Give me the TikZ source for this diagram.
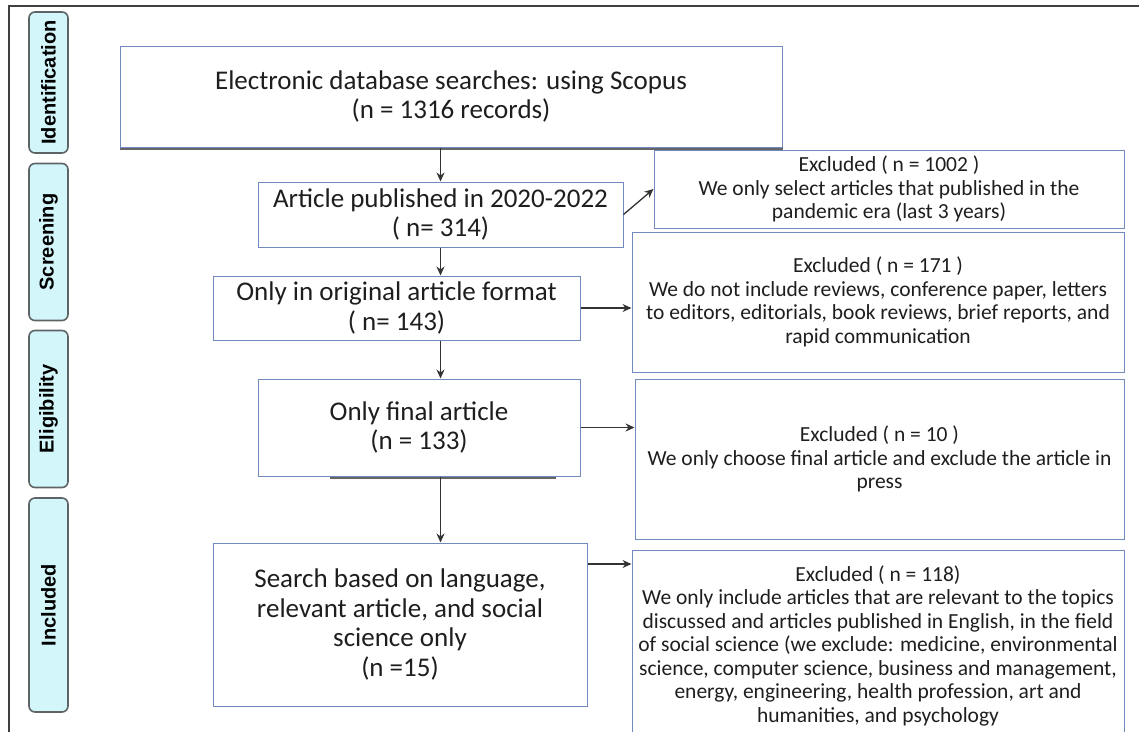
\documentclass[tikz,border=0pt]{standalone}
\usepackage{fontspec}
\setmainfont{Carlito}
\newfontfamily\phasefont{Liberation Sans}
\usetikzlibrary{arrows.meta}
\definecolor{boxline}{HTML}{7189BE}
\definecolor{phasefill}{HTML}{D3F6FB}
\definecolor{phaseline}{HTML}{5E6466}
\definecolor{inktext}{HTML}{1E1E1E}

\begin{document}
\begin{tikzpicture}[
        x=1pt, y=-1pt,
        flow/.style={draw=black!80, line width=1.3pt, -{Stealth[length=9pt, width=8pt]}},
        stagebox/.style={draw=boxline, line width=1pt, align=center, text=inktext, inner sep=0pt, font=\fontsize{27}{29.5}\selectfont},
        exclbox/.style={draw=boxline, line width=1pt, align=center, text=inktext, inner sep=0pt, font=\fontsize{21.5}{23.5}\selectfont},
        phase/.style={draw=phaseline, fill=phasefill, line width=1.6pt, rounded corners=6pt, rotate=90, minimum height=39pt, inner sep=0pt, font=\phasefont\bfseries\fontsize{20}{22}\selectfont},
        shade/.style={draw=black!60, line width=1.6pt}
    ]
    \useasboundingbox (0,0) rectangle (1139,731);
    \draw[line width=2pt, black!75] (9,740) -- (9,6) -- (1139,6);

    % phases on the left
    \node[phase, minimum width=141pt] (identification) at (48.5,82.5) {Identification};
    \node[phase, minimum width=157pt] (screening) at (48.5,242) {Screening};
    \node[phase, minimum width=157pt] (eligibility) at (48.5,409) {Eligibility};
    \node[phase, minimum width=214pt] (inclusion) at (48.5,605) {Included};

    % main flow
    \node[stagebox, minimum width=662pt, minimum height=101pt] (search) at (451,96.5) {Electronic database searches: using Scopus\\(n = 1316 records)};
    \node[stagebox, minimum width=365pt, minimum height=65pt] (years) at (440.5,214.5) {Article published in 2020-2022\\( n= 314)};
    \node[stagebox, minimum width=367pt, minimum height=64pt] (format) at (396.5,308) {Only in original article format\\( n= 143)};
    \node[stagebox, minimum width=322pt, minimum height=97pt] (final) at (419,427.5) {Only final article\\(n = 133)};
    \node[stagebox, minimum width=374pt, minimum height=163pt] (included) at (400,624.5) {Search based on language,\\relevant article, and social\\science only\\(n =15)};

    % exclusions
    \node[exclbox, minimum width=470pt, minimum height=78pt] (excyears) at (889,189) {Excluded ( n = 1002 )\\We only select articles that published in the\\pandemic era (last 3 years)};
    \node[exclbox, minimum width=492pt, minimum height=140pt] (excformat) at (878,302) {Excluded ( n = 171 )\\We do not include reviews, conference paper, letters\\to editors, editorials, book reviews, brief reports, and\\rapid communication};
    \node[exclbox, minimum width=489pt, minimum height=160pt] (excfinal) at (879.5,459) {Excluded ( n = 10 )\\We only choose final article and exclude the article in\\press};
    \node[exclbox, minimum width=492pt, minimum height=190pt, anchor=north] (excincluded) at (878,550) {Excluded ( n = 118)\\We only include articles that are relevant to the topics\\discussed and articles published in English, in the field\\of social science (we exclude: medicine, environmental\\science, computer science, business and management,\\energy, engineering, health profession, art and\\humanities, and psychology};

    % shadows under some boxes
    \draw[shade] ([yshift=-1.5pt]search.south west) -- ([yshift=-1.5pt]search.south east);
    \draw[shade] ([xshift=72pt, yshift=-1.5pt]final.south west) -- ([xshift=-25pt, yshift=-1.5pt]final.south east);

    % arrows
    \draw[flow] (search.south -| years) -- (years.north);
    \draw[flow] (years.south) -- (format.north -| years);
    \draw[flow] (format.south -| years) -- (final.north -| years);
    \draw[flow] (final.south -| years) -- (included.north -| years);
    \draw[flow] (years.east) -- (excyears.west);
    \draw[flow] (format.east) -- (format.east -| excformat.west);
    \draw[flow] (final.east) -- (final.east -| excfinal.west);
    \draw[flow] ([yshift=60.5pt]included.east) -- ([yshift=60.5pt]included.east -| excincluded.west);
\end{tikzpicture}
\end{document}
